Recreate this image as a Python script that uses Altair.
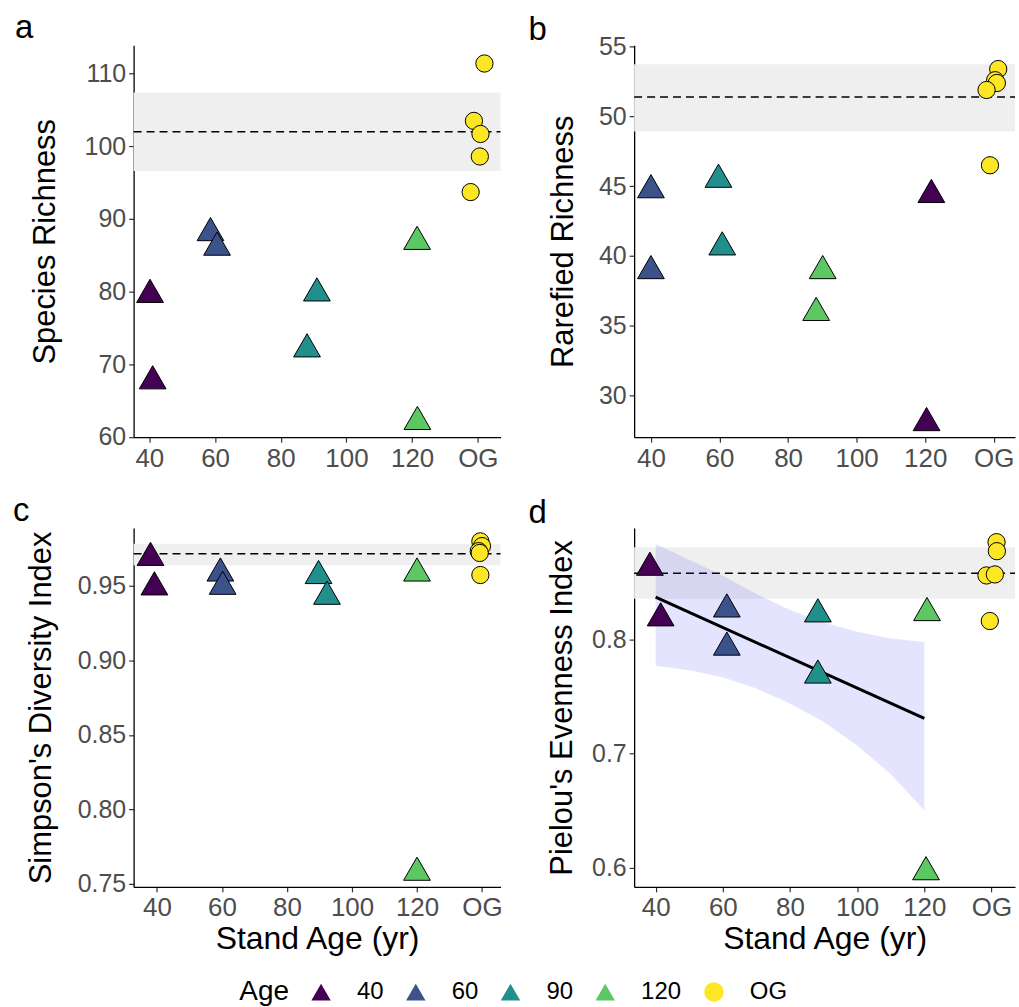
import altair as alt
import pandas as pd

AGES = ["40", "60", "90", "120", "OG"]
COLORS = ["#440154", "#3b528b", "#21908c", "#5dc863", "#fde725"]
SHAPES = ["triangle-up", "triangle-up", "triangle-up", "triangle-up", "circle"]
X_TICKS = [40, 60, 80, 100, 120, 140]

# Panel a: Species Richness
a_age = ["40", "40", "60", "60", "90", "90", "120", "120", "OG", "OG", "OG", "OG", "OG"]
a_x = [40.2, 41.0, 58.6, 60.6, 91.0, 88.0, 121.5, 121.6, 142.0, 138.8, 140.8, 140.6, 137.8]
a_y = [80.1, 68.2, 88.6, 86.6, 80.3, 72.6, 87.4, 62.6, 111.4, 103.5, 101.7, 98.6, 93.7]
a_band = [96.6, 107.4, 102.0]

# Panel b: Rarefied Richness
b_age = ["60", "60", "90", "90", "120", "120", "40", "40", "OG", "OG", "OG", "OG", "OG"]
b_x = [40.0, 40.0, 59.7, 60.8, 90.1, 88.2, 121.8, 120.4, 141.3, 140.4, 140.9, 137.9, 138.9]
b_y = [45.0, 39.2, 45.75, 40.9, 39.2, 36.2, 44.66, 28.3, 53.4, 52.6, 52.4, 51.9, 46.5]
b_band = [48.93, 53.75, 51.4]

# Panel c: Simpson's Diversity Index
c_age = ["40", "40", "60", "60", "90", "90", "120", "120", "OG", "OG", "OG", "OG", "OG"]
c_x = [38.0, 39.2, 59.5, 60.2, 89.7, 92.3, 120.0, 120.0, 139.5, 140.0, 139.0, 139.3, 139.5]
c_y = [0.9716, 0.9518, 0.9611, 0.9522, 0.9594, 0.9455, 0.9611, 0.7602, 0.980, 0.9768, 0.9734, 0.9722, 0.9574]
c_band = [0.9639, 0.9784, 0.9717]

# Panel d: Pielou's Evenness Index
d_age = ["40", "40", "60", "60", "90", "90", "120", "120", "OG", "OG", "OG", "OG", "OG"]
d_x = [38.3, 41.5, 61.2, 61.2, 88.3, 88.3, 120.8, 120.5, 141.5, 141.6, 138.5, 141.0, 139.5]
d_y = [0.8666, 0.8222, 0.830, 0.7965, 0.8257, 0.772, 0.8268, 0.5994, 0.8855, 0.8776, 0.8563, 0.8572, 0.8163]
d_band = [0.8359, 0.8811, 0.8583]
d_fit_x = [40, 120]
d_fit_y = [0.8373, 0.7308]
d_ci_x = [40, 50, 60, 70, 80, 90, 100, 110, 120]
d_ci_lo = [0.777, 0.773, 0.767, 0.757, 0.744, 0.728, 0.707, 0.682, 0.650]
d_ci_hi = [0.884, 0.870, 0.856, 0.840, 0.826, 0.815, 0.807, 0.801, 0.798]

FONT = "Liberation Sans"

LEGEND = alt.Legend(title="Age", symbolStrokeColor="black", symbolStrokeWidth=1.2,
                    symbolSize=380, symbolOpacity=1)


def panel(age, xs, ys, band, letter, ldx, ldy, xdom, ydom, yticks, yfmt, ytitle, xtitle, W, H,
          tpad, fit=None):
    df = pd.DataFrame({"x": xs, "y": ys, "age": age})
    bdf = pd.DataFrame({"lo": [band[0]], "hi": [band[1]], "m": [band[2]]})
    ysc = alt.Scale(domain=ydom, nice=False, zero=False)
    xsc = alt.Scale(domain=xdom, nice=False, zero=False)
    yaxis = alt.Axis(title=ytitle, values=yticks, format=yfmt, labelFontSize=25, titlePadding=tpad)
    xaxis_kwargs = dict(values=X_TICKS, labelExpr="datum.value == 140 ? 'OG' : datum.label",
                        labelFontSize=26)
    if xtitle:
        xaxis = alt.Axis(title=xtitle, **xaxis_kwargs)
    else:
        xaxis = alt.Axis(title=None, **xaxis_kwargs)

    band_l = alt.Chart(bdf).mark_rect(color="#efefef").encode(
        y=alt.Y("lo:Q", scale=ysc, axis=yaxis), y2="hi:Q",
        x=alt.value(0), x2=alt.value(W))
    mean_l = alt.Chart(bdf).mark_rule(color="black", strokeDash=[8, 5], strokeWidth=1.5).encode(
        y=alt.Y("m:Q", scale=ysc, axis=yaxis), x=alt.value(0), x2=alt.value(W))

    pts = alt.Chart(df).mark_point(filled=True, stroke="black", strokeWidth=1, opacity=1).encode(
        x=alt.X("x:Q", scale=xsc, axis=xaxis),
        y=alt.Y("y:Q", scale=ysc, axis=yaxis),
        color=alt.Color("age:N", scale=alt.Scale(domain=AGES, range=COLORS), legend=LEGEND),
        shape=alt.Shape("age:N", scale=alt.Scale(domain=AGES, range=SHAPES), legend=LEGEND),
        size=alt.condition("datum.age == 'OG'", alt.value(300), alt.value(720)),
    )
    tdf = pd.DataFrame({"t": [letter]})
    let = alt.Chart(tdf).mark_text(fontSize=33, font=FONT, align="left", baseline="alphabetic",
                                   color="black").encode(
        text="t:N", x=alt.value(ldx), y=alt.value(ldy))

    layers = [band_l, mean_l]
    if fit is not None:
        fx, fy, cx, clo, chi = fit
        cdf = pd.DataFrame({"x": cx, "lo": clo, "hi": chi})
        ldf = pd.DataFrame({"x": fx, "y": fy})
        ci = alt.Chart(cdf).mark_area(color="#3030ff", opacity=0.13).encode(
            x=alt.X("x:Q", scale=xsc, axis=xaxis),
            y=alt.Y("lo:Q", scale=ysc, axis=yaxis), y2="hi:Q")
        ln = alt.Chart(ldf).mark_line(color="black", strokeWidth=3).encode(
            x=alt.X("x:Q", scale=xsc, axis=xaxis),
            y=alt.Y("y:Q", scale=ysc, axis=yaxis))
        layers += [ci, ln]
    layers += [pts, let]
    return alt.layer(*layers).properties(width=W, height=H)


WL, WR, HT, HB = 368, 382, 393, 360

pa = panel(a_age, a_x, a_y, a_band, "a", -119, -7, [35.2, 146.9], [59.95, 113.9],
           [60, 70, 80, 90, 100, 110], "d", "Species Richness", None, WL, HT, 23)
pb = panel(b_age, b_x, b_y, b_band, "b", -106, -5, [35.1, 146.2], [27.0, 55.1],
           [30, 35, 40, 45, 50, 55], "d", "Rarefied Richness", None, WR, HT, 19)
pc = panel(c_age, c_x, c_y, c_band, "c", -121, -7, [32.8, 145.7], [0.748, 0.989],
           [0.75, 0.80, 0.85, 0.90, 0.95], ".2f", "Simpson's Diversity Index", "Stand Age (yr)",
           WL, HB, 20)
pd_ = panel(d_age, d_x, d_y, d_band, "d", -106, -5, [33.6, 147.0], [0.583, 0.898],
            [0.6, 0.7, 0.8], ".1f", "Pielou's Evenness Index", "Stand Age (yr)", WR, HB, 13,
            fit=(d_fit_x, d_fit_y, d_ci_x, d_ci_lo, d_ci_hi))

chart = alt.concat(pa, pb, pc, pd_, columns=2, spacing={"row": 24, "column": 26}).resolve_scale(
    x="independent", y="independent", color="shared", shape="shared"
).properties(
    padding={"left": 13, "top": 11, "right": 3, "bottom": 5}
).configure_view(stroke=None).configure_axis(
    grid=False, domainColor="black", domainWidth=1.3, tickColor="#333333", tickWidth=1.2,
    tickSize=5, labelPadding=3, labelColor="#4d4d4d", labelFont=FONT,
    titleFont=FONT, titleFontSize=31, titleFontWeight="normal", titleColor="black",
    titlePadding=10
).configure_axisX(titlePadding=3, titleFontSize=32).configure_legend(
    orient="none", legendX=106, legendY=937, direction="horizontal", titleOrient="left",
    titleFontSize=28, titleFontWeight="normal", titleColor="black", titleFont=FONT,
    labelFont=FONT, labelFontSize=24, labelColor="black", symbolSize=380,
    symbolStrokeColor="black", symbolStrokeWidth=1.2, symbolOpacity=1,
    labelOffset=24, columnPadding=19, titlePadding=20
)

chart.save("out.html", embed_options={"renderer": "svg", "actions": False})
